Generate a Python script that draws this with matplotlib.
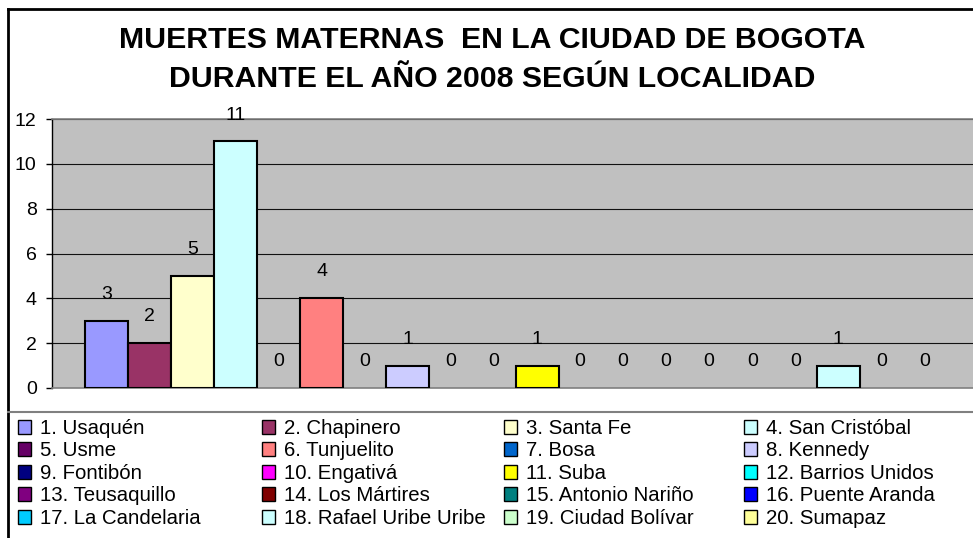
import numpy as np
import matplotlib.pyplot as plt
from matplotlib.lines import Line2D
from matplotlib.patches import Patch

plt.rcParams['font.family'] = ['Liberation Sans', 'DejaVu Sans']

localidades = ["1. Usaquén", "2. Chapinero", "3. Santa Fe", "4. San Cristóbal",
               "5. Usme", "6. Tunjuelito", "7. Bosa", "8. Kennedy",
               "9. Fontibón", "10. Engativá", "11. Suba", "12. Barrios Unidos",
               "13. Teusaquillo", "14. Los Mártires", "15. Antonio Nariño", "16. Puente Aranda",
               "17. La Candelaria", "18. Rafael Uribe Uribe", "19. Ciudad Bolívar", "20. Sumapaz"]
muertes = [3, 2, 5, 11, 0, 4, 0, 1, 0, 0, 1, 0, 0, 0, 0, 0, 0, 1, 0, 0]
colores = ["#9999FF", "#993366", "#FFFFCC", "#CCFFFF",
           "#660066", "#FF8080", "#0066CC", "#CCCCFF",
           "#000080", "#FF00FF", "#FFFF00", "#00FFFF",
           "#800080", "#800000", "#008080", "#0000FF",
           "#00CCFF", "#CCFFFF", "#CCFFCC", "#FFFF99"]
yticks = [0, 2, 4, 6, 8, 10, 12]

W, H = 973, 538
fig = plt.figure(figsize=(W / 100, H / 100), dpi=100)
fig.patch.set_facecolor("white")

# plot area (runs a bit past the right edge, like the cropped original)
ax = fig.add_axes([52 / W, (H - 388) / H, (979 - 52) / W, (388 - 119) / H])
ax.set_facecolor("#C0C0C0")

x = np.arange(len(muertes))
anchos = [1.5 if v > 0 else 0 for v in muertes]
ax.bar(x, muertes, width=1.0, color=colores, edgecolor="black", linewidth=anchos, zorder=3)
for xi, v in zip(x, muertes):
    ax.annotate(str(v), (xi, v), xytext=(0, 19), textcoords="offset points",
                ha="center", va="center", fontsize=14, zorder=4)

ax.set_xlim(-1.27, len(muertes) - 1 + 1.27)
ax.set_ylim(0, 12)
ax.set_yticks(yticks)
ax.set_xticks([])
ax.tick_params(axis="y", direction="out", length=4, width=1, pad=7, labelsize=14)
ax.yaxis.grid(True, color="#111111", linewidth=0.8, zorder=1)
ax.set_axisbelow(True)
ax.spines["left"].set_color("black")
ax.spines["left"].set_linewidth(1)
for s in ["top", "bottom", "right"]:
    ax.spines[s].set_color("#808080")
    ax.spines[s].set_linewidth(1.2)

fig.text(492 / W, 1 - 40 / H, "MUERTES MATERNAS  EN LA CIUDAD DE BOGOTA",
         ha="center", va="center", fontsize=21.8, fontweight="bold")
fig.text(492 / W, 1 - 79 / H, "DURANTE EL AÑO 2008 SEGÚN LOCALIDAD",
         ha="center", va="center", fontsize=21.8, fontweight="bold")

# legend: four columns, filled row by row
handles = [Patch(facecolor=c, edgecolor="black", linewidth=1) for c in colores]
col_x = [18, 262, 504, 744]
for c, cx in enumerate(col_x):
    idx = [r * 4 + c for r in range(5)]
    leg = fig.legend([handles[i] for i in idx], [localidades[i] for i in idx],
                     ncol=1, loc="upper left", bbox_to_anchor=(cx / W, 1 - 419 / H),
                     frameon=False, fontsize=14.7, handlelength=0.65, handleheight=0.65,
                     handletextpad=0.45, labelspacing=0.17,
                     borderpad=0, borderaxespad=0)

# chart border lines
fig.add_artist(Line2D([8 / W, 8 / W], [0, 1 - 9 / H], color="black", linewidth=2))
fig.add_artist(Line2D([8 / W, 1], [1 - 9 / H, 1 - 9 / H], color="black", linewidth=2))
fig.add_artist(Line2D([8 / W, 1], [1 - 412 / H, 1 - 412 / H], color="#808080", linewidth=1.5))

fig.savefig("out.png", dpi=100)
